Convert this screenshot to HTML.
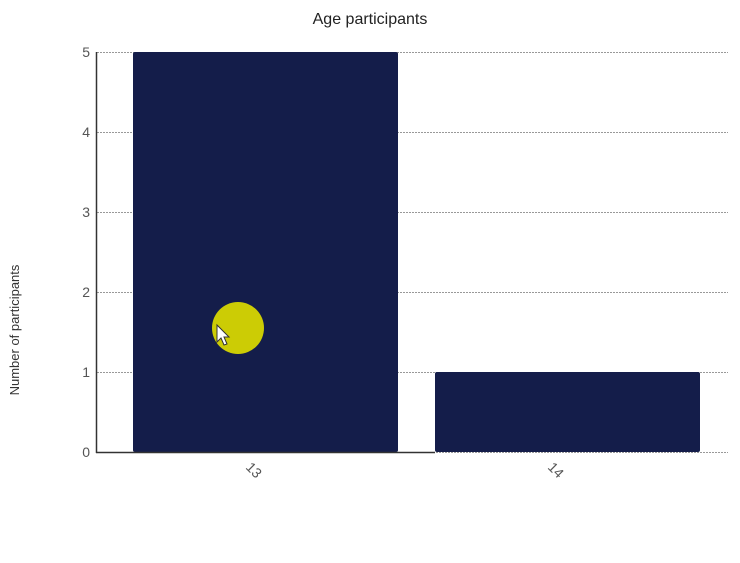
<!DOCTYPE html>
<html><head><meta charset="utf-8"><style>
body{margin:0;background:#fff;}
</style></head><body>
<svg width="740" height="563" xmlns="http://www.w3.org/2000/svg" style="display:block;font-family:'Liberation Sans',sans-serif">
<rect width="740" height="563" fill="#fff"/>
<text x="370" y="24" text-anchor="middle" font-size="16" fill="#222">Age participants</text>
<g stroke="#999" stroke-width="1" stroke-dasharray="2,1">
<line x1="97" y1="52.5" x2="728" y2="52.5"/>
<line x1="97" y1="132.5" x2="728" y2="132.5"/>
<line x1="97" y1="212.5" x2="728" y2="212.5"/>
<line x1="97" y1="292.5" x2="728" y2="292.5"/>
<line x1="97" y1="372.5" x2="728" y2="372.5"/>
<line x1="97" y1="452.5" x2="728" y2="452.5"/>
</g>
<rect x="133" y="52" width="265" height="400" rx="2" fill="#141d4a"/>
<rect x="435" y="372" width="265" height="80" rx="2" fill="#141d4a"/>
<line x1="96.5" y1="52" x2="96.5" y2="453" stroke="#333" stroke-width="1.5"/>
<line x1="96" y1="452.5" x2="435" y2="452.5" stroke="#333" stroke-width="1.5"/>
<g font-size="14" fill="#555" text-anchor="end">
<text x="90" y="57">5</text>
<text x="90" y="137">4</text>
<text x="90" y="217">3</text>
<text x="90" y="297">2</text>
<text x="90" y="377">1</text>
<text x="90" y="457">0</text>
</g>
<text transform="translate(245,468) rotate(45)" font-size="14" fill="#555">13</text>
<text transform="translate(547,468) rotate(45)" font-size="14" fill="#555">14</text>
<text transform="translate(19,330) rotate(-90)" text-anchor="middle" font-size="13" fill="#333">Number of participants</text>
<circle cx="238" cy="328" r="26" fill="#cccc05"/>
<path d="M217,325 L217,342 L221,338 L224,345 L227,344 L224,337 L229,337 Z" fill="#fff" stroke="#333" stroke-width="1"/>
</svg>
</body></html>
